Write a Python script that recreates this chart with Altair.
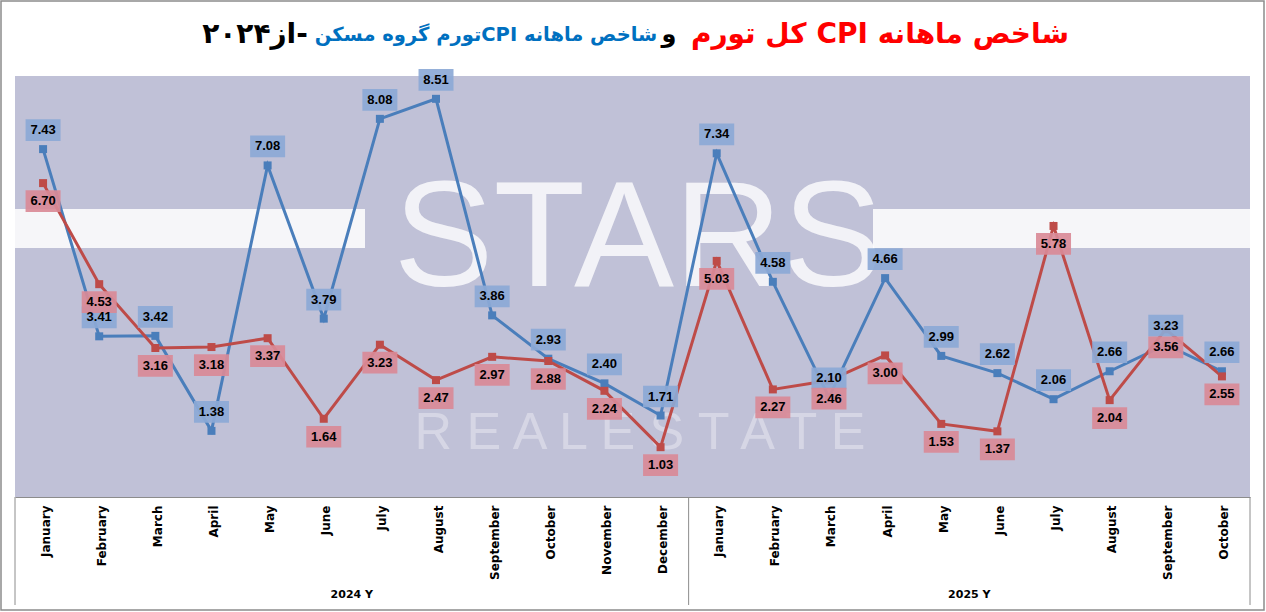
import altair as alt
import pandas as pd

months_2024 = ["January", "February", "March", "April", "May", "June", "July",
               "August", "September", "October", "November", "December"]
months_2025 = ["January", "February", "March", "April", "May", "June", "July",
               "August", "September", "October"]
housing_cpi = [7.43, 3.41, 3.42, 1.38, 7.08, 3.79, 8.08, 8.51, 3.86, 2.93, 2.40, 1.71,
               7.34, 4.58, 2.10, 4.66, 2.99, 2.62, 2.06, 2.66, 3.23, 2.66]
total_cpi = [6.70, 4.53, 3.16, 3.18, 3.37, 1.64, 3.23, 2.47, 2.97, 2.88, 2.24, 1.03,
             5.03, 2.27, 2.46, 3.00, 1.53, 1.37, 5.78, 2.04, 3.56, 2.55]
year_labels = ["2024 Y", "2025 Y"]
year_counts = [len(months_2024), len(months_2025)]

title_red = "شاخص ماهانه CPI کل تورم"
title_and = "و"
title_blue = "شاخص ماهانه CPIتورم گروه مسکن"
title_black = "-از۲۰۲۴"

months_all = months_2024 + months_2025
n = len(months_all)
df = pd.DataFrame({
    "pos": [i + 0.5 for i in range(n)],
    "month": months_all,
    "housing": housing_cpi,
    "total": total_cpi,
})
df["housing_lbl"] = [f"{v:.2f}" for v in housing_cpi]
df["total_lbl"] = [f"{v:.2f}" for v in total_cpi]

starts = [0, year_counts[0]]
years_df = pd.DataFrame({
    "year": year_labels,
    "center": [s + c / 2 for s, c in zip(starts, year_counts)],
})
seps_df = pd.DataFrame({"b": [0, year_counts[0], n]})

W, H = 1235, 421
BLUE = "#4A7EBB"
RED = "#BE4B48"
BLUE_BOX = "#8CA9D6"
RED_BOX = "#D98A97"
GRID_GRAY = "#8C8C8C"

label_js = "[" + ",".join(f"'{m}'" for m in months_all) + "]"
xscale = alt.Scale(domain=[0, n], nice=False, zero=False)
yscale = alt.Scale(domain=[-0.04, 9], nice=False, zero=False)

x_axis = alt.Axis(
    values=[i + 0.5 for i in range(n)],
    labelExpr=label_js + "[floor(datum.value)]",
    labelAngle=270, labelAlign="right", labelBaseline="middle",
    labelFont="DejaVu Sans", labelFontWeight="bold", labelFontSize=12,
    labelColor="#000000", labelPadding=8, labelOffset=2,
    ticks=False, grid=False, domain=True, domainColor=GRID_GRAY, domainWidth=1,
    title=None,
)

base = alt.Chart(df)

# watermark-like decoration
band_df = pd.DataFrame({"x0": [0], "x1": [1]})
band_left = alt.Chart(band_df).mark_rect(color="white", opacity=0.85).encode(
    x=alt.value(0), x2=alt.value(350), y=alt.value(133), y2=alt.value(172))
band_right = alt.Chart(band_df).mark_rect(color="white", opacity=0.85).encode(
    x=alt.value(858), x2=alt.value(W), y=alt.value(133), y2=alt.value(172))
wm1 = alt.Chart(pd.DataFrame({"t": ["STARS"]})).mark_text(
    font="Liberation Sans", fontSize=150, color="white", opacity=0.8,
    align="center", baseline="middle").encode(
    x=alt.value(623), y=alt.value(165), text="t:N")
wm2 = alt.Chart(pd.DataFrame({"t": ["R E A L   E S T A T E"]})).mark_text(
    font="Liberation Sans", fontSize=52, color="white", opacity=0.35,
    align="center", baseline="middle").encode(
    x=alt.value(625), y=alt.value(357), text="t:N")

line_blue = base.mark_line(color=BLUE, strokeWidth=3).encode(
    x=alt.X("pos:Q", scale=xscale, axis=x_axis),
    y=alt.Y("housing:Q", scale=yscale, axis=None))
line_red = base.mark_line(color=RED, strokeWidth=3).encode(
    x=alt.X("pos:Q", scale=xscale), y=alt.Y("total:Q", scale=yscale))
pt_blue = base.mark_point(shape="square", filled=True, size=64, color=BLUE, opacity=1).encode(
    x=alt.X("pos:Q", scale=xscale), y=alt.Y("housing:Q", scale=yscale))
pt_red = base.mark_point(shape="square", filled=True, size=64, color=RED, opacity=1).encode(
    x=alt.X("pos:Q", scale=xscale), y=alt.Y("total:Q", scale=yscale))

box_shape = "M-1,-0.62H1V0.62H-1Z"
box_blue = base.mark_point(shape=box_shape, filled=True, size=1225, color=BLUE_BOX,
                           opacity=0.92, yOffset=-19).encode(
    x=alt.X("pos:Q", scale=xscale), y=alt.Y("housing:Q", scale=yscale))
box_red = base.mark_point(shape=box_shape, filled=True, size=1225, color=RED_BOX,
                          opacity=0.92, yOffset=18).encode(
    x=alt.X("pos:Q", scale=xscale), y=alt.Y("total:Q", scale=yscale))
txt_blue = base.mark_text(font="Liberation Sans", fontWeight="bold", fontSize=13,
                          color="#000000", yOffset=-19, baseline="middle").encode(
    x=alt.X("pos:Q", scale=xscale), y=alt.Y("housing:Q", scale=yscale), text="housing_lbl:N")
txt_red = base.mark_text(font="Liberation Sans", fontWeight="bold", fontSize=13,
                         color="#000000", yOffset=18, baseline="middle").encode(
    x=alt.X("pos:Q", scale=xscale), y=alt.Y("total:Q", scale=yscale), text="total_lbl:N")

seps = alt.Chart(seps_df).mark_rule(color=GRID_GRAY, strokeWidth=1).encode(
    x=alt.X("b:Q", scale=xscale), y=alt.value(H), y2=alt.value(H + 108))
years = alt.Chart(years_df).mark_text(font="DejaVu Sans", fontWeight="bold", fontSize=11,
                                      color="#000000", baseline="middle").encode(
    x=alt.X("center:Q", scale=xscale), y=alt.value(H + 98), text="year:N")

RLE, PDF = "\u202B", "\u202C"

def title_part(txt, color, xc, size):
    return alt.Chart(pd.DataFrame({"t": [RLE + txt + PDF]})).mark_text(
        font="DejaVu Sans", fontWeight="bold", fontSize=size, color=color,
        align="center", baseline="middle").encode(
        x=alt.value(xc), y=alt.value(-41), text="t:N")

t1 = title_part(title_red, "#FF0000", 865, 28)
t2 = title_part(title_and, "#000000", 654, 24)
t3 = title_part(title_blue, "#0070C0", 471, 19.5)
t4 = title_part(title_black, "#000000", 240, 28)

border = alt.Chart(band_df).mark_rect(fill=None, stroke=GRID_GRAY, strokeWidth=1.5).encode(
    x=alt.value(-14), x2=alt.value(W + 14), y=alt.value(-75), y2=alt.value(H + 113))

chart = alt.layer(
    band_left, band_right, wm1, wm2,
    line_blue, line_red, pt_blue, pt_red,
    box_blue, box_red, txt_blue, txt_red,
    seps, years, t1, t2, t3, t4, border,
).properties(
    width=W, height=H,
    autosize=alt.AutoSizeParams(type="none"),
    padding={"left": 15, "top": 76, "right": 16, "bottom": 115},
    background="white",
).configure_view(fill="#C0C1D7", stroke=None)

chart.save("out.html", embed_options={"renderer": "svg", "actions": False})
